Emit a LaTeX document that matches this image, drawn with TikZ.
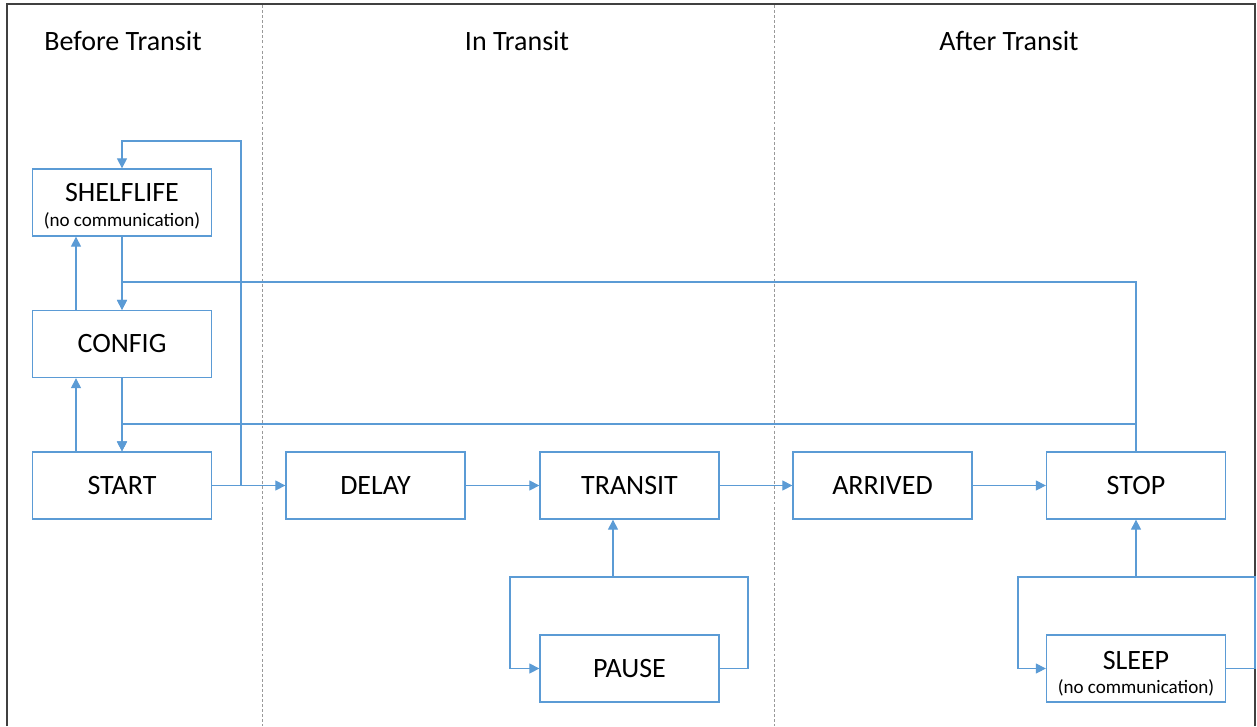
\documentclass[tikz,border=0pt]{standalone}
\usepackage{fontspec}
\setmainfont{Carlito}
\usetikzlibrary{arrows.meta}
\definecolor{blu}{HTML}{5B9BD5}
\definecolor{frm}{HTML}{404040}
\begin{document}
\begin{tikzpicture}[x=0.75pt,y=-0.75pt,
  box/.style={draw=blu,line width=1.2pt,minimum width=134pt,minimum height=50pt,inner sep=0pt,align=center,font=\fontsize{21}{24}\selectfont},
  head/.style={font=\fontsize{21}{24}\selectfont},
  sub/.style={font=\fontsize{14.3}{16}\selectfont},
  conn/.style={draw=blu,line width=0.8pt},
  arr/.style={conn,-{Triangle[length=7.5pt,width=7.5pt]}},
  sep/.style={draw=gray!80,line width=0.6pt,dash pattern=on 2.2pt off 1.6pt}]
\useasboundingbox (0,0) rectangle (1257,726);
% frame
\draw[frm,line width=1.8pt] (7,726) -- (7,4) -- (1255,4) -- (1255,726);
\draw[sep] (262,5) -- (262,726);
\draw[sep] (774,5) -- (774,726);
% headings
\node[head] (h1) at (123,41) {Before Transit};
\node[head] (h2) at (517,41) {In Transit};
\node[head] (h3) at (1009,41) {After Transit};
% boxes
\node[box] (shelf) at (122,202.5) {\strut};
\node[head] (shelft) at (122,193) {SHELFLIFE};
\node[sub] (shelfs) at (122,221) {(no communication)};
\node[box] (config) at (122,344) {CONFIG};
\node[box] (start) at (122,485.5) {START};
\node[box] (delay) at (375.5,485.5) {DELAY};
\node[box] (transit) at (629.5,485.5) {TRANSIT};
\node[box] (arrived) at (882.5,485.5) {ARRIVED};
\node[box] (stop) at (1136,485.5) {STOP};
\node[box] (pause) at (629.5,668.5) {PAUSE};
\node[box] (sleep) at (1136,668.5) {\strut};
\node[head] (sleept) at (1136,660) {SLEEP};
\node[sub] (sleeps) at (1136,688) {(no communication)};
% coordinates
\coordinate (jstart) at (241,485.5);
\coordinate (jpause) at (613,577);
\coordinate (jsleep) at (1136,577);
% vertical links in Before Transit
\draw[arr] (shelf.south) -- (config.north);
\draw[arr] (config.north -| 76,0) -- (shelf.south -| 76,0);
\draw[arr] (config.south) -- (start.north);
\draw[arr] (start.north -| 76,0) -- (config.south -| 76,0);
% START -> SHELFLIFE
\draw[arr] (start.east) -- (jstart) -- (241,141) -- (122,141) -- (shelf.north);
% main row
\draw[arr] (jstart) -- (delay.west);
\draw[arr] (delay.east) -- (transit.west);
\draw[arr] (transit.east) -- (arrived.west);
\draw[arr] (arrived.east) -- (stop.west);
% STOP returns
\draw[arr] (stop.north) -- (1136,282) -- (122,282) -- (config.north);
\draw[arr] (stop.north) -- (1136,424) -- (122,424) -- (start.north);
% PAUSE loop
\draw[arr] (pause.east) -- (748,668.5) -- (748,577) -- (jpause) -- (transit.south -| jpause);
\draw[arr] (jpause) -- (510,577) -- (510,668.5) -- (pause.west);
% SLEEP loop
\draw[arr] (sleep.east) -- (1255,668.5) -- (1255,577) -- (jsleep) -- (stop.south);
\draw[arr] (jsleep) -- (1018,577) -- (1018,668.5) -- (sleep.west);
\end{tikzpicture}
\end{document}
